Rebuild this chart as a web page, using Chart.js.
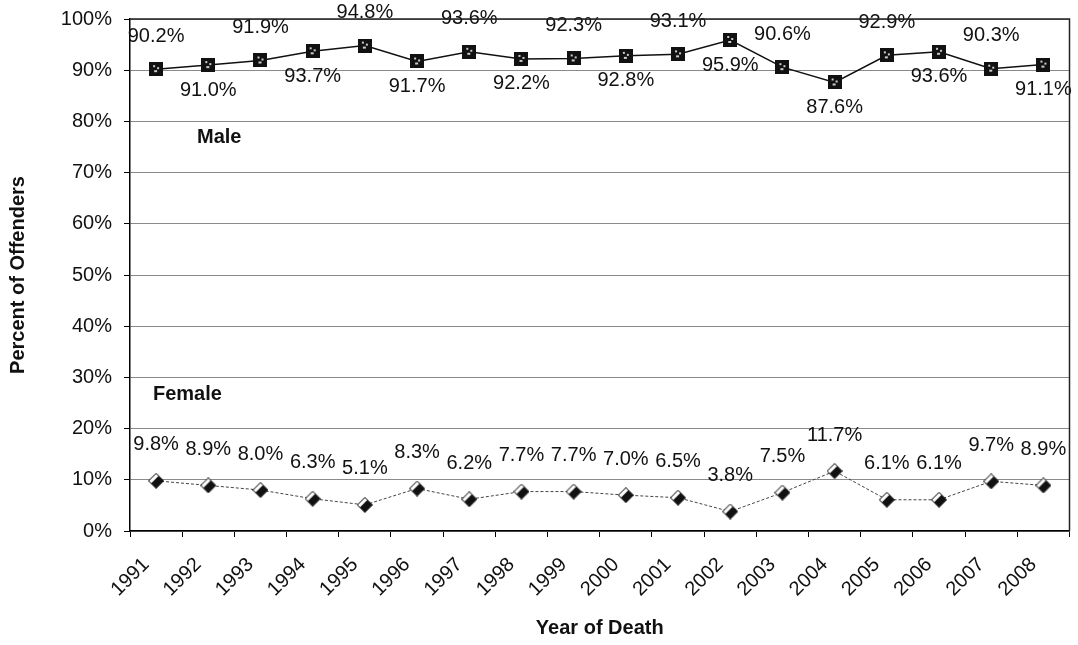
<!DOCTYPE html>
<html>
<head>
<meta charset="utf-8">
<script src="https://cdn.jsdelivr.net/npm/chart.js@4.4.1/dist/chart.umd.min.js"></script>
<style>
  html, body { margin: 0; padding: 0; background: #fff; }
  #wrap { width: 1078px; height: 645px; }
</style>
</head>
<body>
<div id="wrap"><canvas id="myChart" width="1078" height="645"></canvas></div>
<script>
var years = ["1991","1992","1993","1994","1995","1996","1997","1998","1999","2000","2001","2002","2003","2004","2005","2006","2007","2008"];
var male = [90.2,91.0,91.9,93.7,94.8,91.7,93.6,92.2,92.3,92.8,93.1,95.9,90.6,87.6,92.9,93.6,90.3,91.1];
var female = [9.8,8.9,8.0,6.3,5.1,8.3,6.2,7.7,7.7,7.0,6.5,3.8,7.5,11.7,6.1,6.1,9.7,8.9];
var yTicks = [0,10,20,30,40,50,60,70,80,90,100];

var FONT = "'Liberation Sans', Arial, sans-serif";

// marker pictures
function maleMarker(){
    var c = document.createElement('canvas');
    c.width = 14; c.height = 14;
    var g = c.getContext('2d');
    g.fillStyle = '#111';
    g.fillRect(0,0,14,14);
    g.fillStyle = '#ccc';
    g.fillRect(4,3,2,2);
    g.fillRect(8,5,2,2);
    g.fillRect(5,8,3,2);
    return c;
}
function femaleMarker(){
    var c = document.createElement('canvas');
    c.width = 16; c.height = 16;
    var g = c.getContext('2d');
    g.beginPath();
    g.moveTo(8,0.5); g.lineTo(15.5,8); g.lineTo(8,15.5); g.lineTo(0.5,8); g.closePath();
    g.fillStyle = '#111'; g.fill();
    g.beginPath();
    g.moveTo(0.5,8); g.lineTo(8,0.5); g.lineTo(10.5,3); g.lineTo(3,10.5); g.closePath();
    g.fillStyle = '#fff'; g.fill();
    g.beginPath();
    g.moveTo(8,0.5); g.lineTo(15.5,8); g.lineTo(8,15.5); g.lineTo(0.5,8); g.closePath();
    g.strokeStyle = '#111'; g.lineWidth = 1; g.stroke();
    return c;
}

var valueLabels = {
    id: 'valueLabels',
    afterDatasetsDraw: function(chart){
        var ctx = chart.ctx;
        ctx.save();
        ctx.font = "20px " + FONT;
        ctx.fillStyle = '#111';
        ctx.textAlign = 'center';
        ctx.textBaseline = 'middle';
        chart.data.datasets.forEach(function(ds, d){
            var meta = chart.getDatasetMeta(d);
            meta.data.forEach(function(pt, i){
                var txt = ds.data[i].toFixed(1) + '%';
                var y;
                if (d === 0) y = (i % 2 === 0) ? pt.y - 33 : pt.y + 25;
                else y = pt.y - 36;
                ctx.fillText(txt, pt.x, y);
            });
        });
        // series names
        var a = chart.chartArea, ys = chart.scales.y;
        ctx.font = "bold 20px " + FONT;
        ctx.textAlign = 'left';
        ctx.fillText('Male', a.left + 67, ys.getPixelForValue(76.8));
        ctx.fillText('Female', a.left + 23, ys.getPixelForValue(26.6));
        ctx.restore();
    },
    afterDraw: function(chart){
        var a = chart.chartArea, ctx = chart.ctx;
        ctx.save();
        ctx.strokeStyle = '#222';
        ctx.lineWidth = 1.5;
        ctx.beginPath();
        ctx.moveTo(a.left, a.top); ctx.lineTo(a.right, a.top); ctx.lineTo(a.right, a.bottom);
        ctx.stroke();
        ctx.restore();
    }
};

var ctx = document.getElementById("myChart");
var myChart = new Chart(ctx, {
    type: 'line',
    data: {
        labels: years,
        datasets: [{
            label: 'Male',
            data: male,
            borderColor: '#111',
            borderWidth: 1.5,
            pointStyle: maleMarker(),
            pointRadius: 7,
            fill: false,
            tension: 0
        }, {
            label: 'Female',
            data: female,
            borderColor: '#444',
            borderWidth: 1,
            borderDash: [3,2],
            pointStyle: femaleMarker(),
            pointRadius: 7,
            fill: false,
            tension: 0
        }]
    },
    options: {
        responsive: false,
        animation: false,
        layout: { padding: { top: 19, right: 6, left: 0, bottom: 0 } },
        plugins: {
            legend: { display: false },
            tooltip: { enabled: false }
        },
        scales: {
            x: {
                offset: true,
                grid: { display: true, drawOnChartArea: false, offset: true, tickLength: 6, color: '#000' },
                border: { color: '#000', width: 1.5 },
                ticks: {
                    minRotation: 45, maxRotation: 45, labelOffset: -10, padding: 16,
                    color: '#111', font: { family: FONT, size: 20 }
                },
                title: { display: true, text: 'Year of Death', color: '#111',
                    font: { family: FONT, size: 20, weight: 'bold' }, padding: { top: 4, bottom: 5 } },
                afterFit: function(s){ s.height = 114; s.paddingLeft = 0; s.paddingRight = 0; }
            },
            y: {
                min: 0, max: 100,
                afterBuildTicks: function(s){ s.ticks = yTicks.map(function(v){ return { value: v }; }); },
                grid: { color: '#8a8a8a', lineWidth: 1, tickLength: 6, tickColor: '#000' },
                border: { color: '#000', width: 1.5 },
                ticks: {
                    padding: 12, color: '#111', font: { family: FONT, size: 20 },
                    callback: function(v){ return v + '%'; }
                },
                title: { display: true, text: 'Percent of Offenders', color: '#111',
                    font: { family: FONT, size: 20, weight: 'bold' }, padding: { top: 6, bottom: 0 } },
                afterFit: function(s){ s.width = 130; s.paddingTop = 0; s.paddingBottom = 0; }
            }
        }
    },
    plugins: [valueLabels]
});
</script>
</body>
</html>
